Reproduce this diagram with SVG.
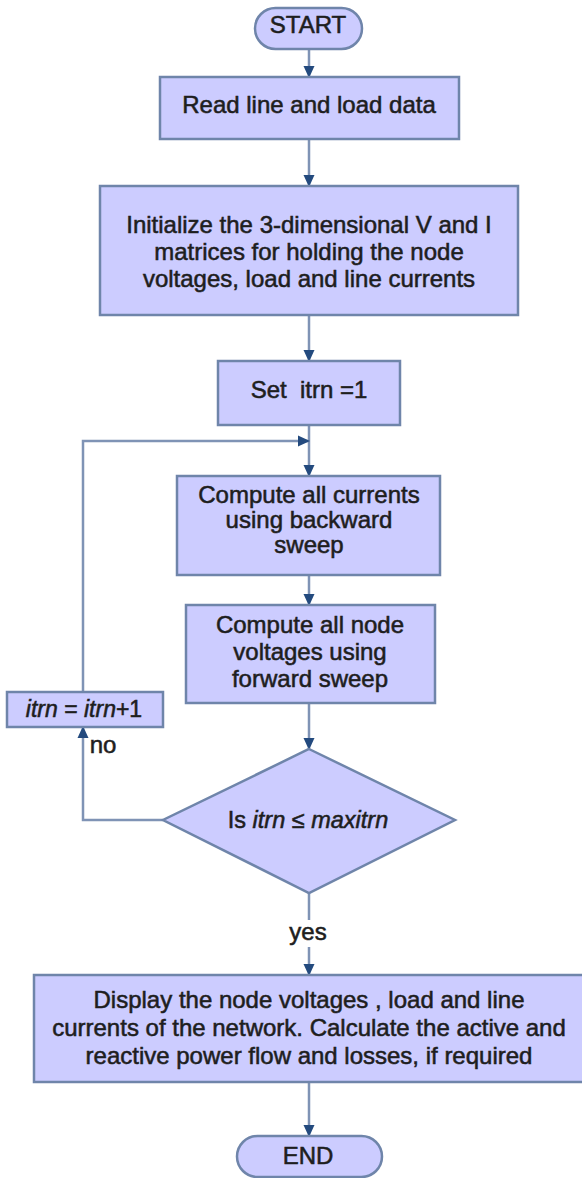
<svg xmlns="http://www.w3.org/2000/svg" width="582" height="1178" viewBox="0 0 582 1178">
  <style>
    .box { fill: #CCCCFF; stroke: #6F85AA; stroke-width: 2.5; }
    .lbl { font-family: "Liberation Sans", Arial, sans-serif; font-size: 24px; fill: #1E1E1E; text-anchor: middle; stroke: #1E1E1E; stroke-width: 0.55; }
    .it { font-style: italic; }
    .edge { fill: none; stroke: #7F93B5; stroke-width: 2.5; }
  </style>
  <defs>
    <marker id="arrow" markerUnits="userSpaceOnUse" markerWidth="12" markerHeight="12" viewBox="0 0 12 12" refX="11" refY="6" orient="auto">
      <path d="M0,0.5 L12,6 L0,11.5 Z" fill="#234A7E"/>
    </marker>
  </defs>

  <rect width="582" height="1178" fill="#FFFFFF"/>

  <!-- connectors -->
  <g id="connectors">
    <path class="edge" d="M309,49 V77" marker-end="url(#arrow)"/>
    <path class="edge" d="M309,139 V186" marker-end="url(#arrow)"/>
    <path class="edge" d="M309,315 V361" marker-end="url(#arrow)"/>
    <path class="edge" d="M309,425 V476" marker-end="url(#arrow)"/>
    <path class="edge" d="M83,692 V441 H309" marker-end="url(#arrow)"/>
    <path class="edge" d="M309,575 V605" marker-end="url(#arrow)"/>
    <path class="edge" d="M309,703 V749" marker-end="url(#arrow)"/>
    <path class="edge" d="M163,820 H83 V727" marker-end="url(#arrow)"/>
    <path class="edge" d="M309,893 V920"/>
    <path class="edge" d="M309,947 V975" marker-end="url(#arrow)"/>
    <path class="edge" d="M309,1082 V1136" marker-end="url(#arrow)"/>
    <text class="lbl" x="103" y="753">no</text>
    <text class="lbl" x="308" y="940">yes</text>
  </g>

  <g id="start">
    <rect class="box" x="255" y="8" width="107" height="41" rx="20.5"/>
    <text class="lbl" x="308" y="33">START</text>
  </g>

  <g id="read-data">
    <rect class="box" x="160" y="77" width="299" height="62"/>
    <text class="lbl" x="309" y="113">Read line and load data</text>
  </g>

  <g id="initialize">
    <rect class="box" x="100" y="186" width="418" height="129"/>
    <text class="lbl" x="309" y="233">Initialize the 3-dimensional V and I</text>
    <text class="lbl" x="309" y="260">matrices for holding the node</text>
    <text class="lbl" x="309" y="287">voltages, load and line currents</text>
  </g>

  <g id="set-itrn">
    <rect class="box" x="218" y="361" width="182" height="64"/>
    <text class="lbl" x="309" y="398">Set &#160;itrn =1</text>
  </g>

  <g id="backward-sweep">
    <rect class="box" x="177" y="476" width="263" height="99"/>
    <text class="lbl" x="309" y="503">Compute all currents</text>
    <text class="lbl" x="309" y="528">using backward</text>
    <text class="lbl" x="309" y="553">sweep</text>
  </g>

  <g id="forward-sweep">
    <rect class="box" x="186" y="605" width="249" height="98"/>
    <text class="lbl" x="310" y="633">Compute all node</text>
    <text class="lbl" x="310" y="660">voltages using</text>
    <text class="lbl" x="310" y="687">forward sweep</text>
  </g>

  <g id="increment">
    <rect class="box" x="7" y="692" width="156" height="35"/>
    <text class="lbl" x="84" y="717" style="font-size:23px"><tspan class="it">itrn</tspan> = <tspan class="it">itrn</tspan>+1</text>
  </g>

  <g id="check">
    <polygon class="box" points="309,749 455,820 309,893 163,820"/>
    <text class="lbl" x="308" y="828" style="font-size:23.5px">Is <tspan class="it">itrn</tspan> ≤ <tspan class="it">maxitrn</tspan></text>
  </g>

  <g id="display">
    <rect class="box" x="34" y="975" width="552" height="107"/>
    <text class="lbl" x="309" y="1008">Display the node voltages , load and line</text>
    <text class="lbl" x="309" y="1036">currents of the network. Calculate the active and</text>
    <text class="lbl" x="309" y="1064">reactive power flow and losses, if required</text>
  </g>

  <g id="end">
    <rect class="box" x="237" y="1136" width="145" height="41" rx="20.5"/>
    <text class="lbl" x="308" y="1164">END</text>
  </g>
</svg>
